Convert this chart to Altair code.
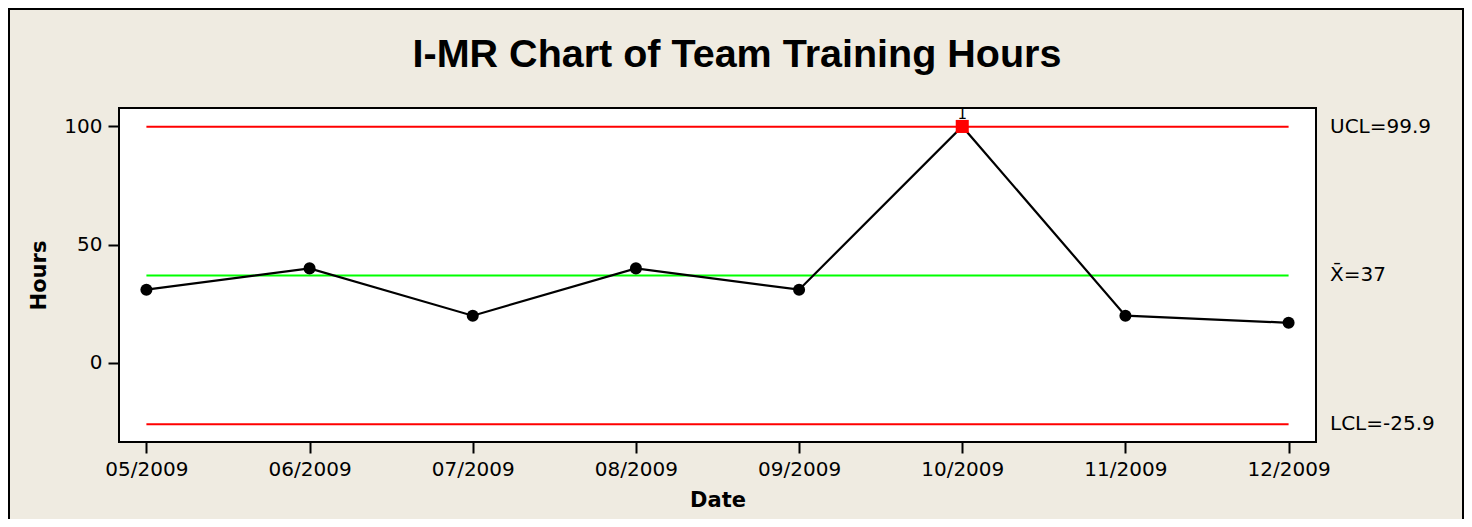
import altair as alt
import pandas as pd

# ---- data ----
dates = ["05/2009", "06/2009", "07/2009", "08/2009",
         "09/2009", "10/2009", "11/2009", "12/2009"]
hours = [31, 40, 20, 40, 31, 100, 20, 17]

limit_names = ["UCL", "CL", "LCL"]
limit_values = [99.9, 37.0, -25.9]
limit_labels = ["UCL=99.9", "X\u0304=37", "LCL=-25.9"]
limit_colors = ["#FF0000", "#00FF00", "#FF0000"]

y_ticks = [0, 50, 100]
title_text = "I-MR Chart of Team Training Hours"
flag_text = "1"

# ---- tables ----
ucl = limit_values[0]
df = pd.DataFrame({"Date": dates, "Hours": hours})
df["status"] = ["out" if h > ucl else "in" for h in hours]
df["flag"] = [flag_text if s == "out" else "" for s in df["status"]]

limits = pd.DataFrame({
    "name": limit_names,
    "Hours": limit_values,
    "label": limit_labels,
    "Date": [dates[0]] * len(limit_names),
    "end": [dates[-1]] * len(limit_names),
})
one = pd.DataFrame({"t": [title_text]})

W, H = 1197, 334
x_scale = alt.Scale(type="point", domain=dates, padding=0.168)
y_scale = alt.Scale(domain=[-33.4, 107.8], nice=False, zero=False)

x_axis = alt.Axis(title="Date", labelAngle=0, labelPadding=6, titlePadding=10)
y_axis = alt.Axis(title="Hours", values=y_ticks, labelPadding=6, titlePadding=14)

x_enc = alt.X("Date:N", scale=x_scale, sort=dates, axis=x_axis)
y_enc = alt.Y("Hours:Q", scale=y_scale, axis=y_axis)

rules = alt.Chart(limits).mark_rule(strokeWidth=2).encode(
    x=x_enc,
    x2="end:N",
    y=y_enc,
    color=alt.Color("name:N", scale=alt.Scale(domain=limit_names, range=limit_colors),
                    legend=None),
)

limit_text = alt.Chart(limits).mark_text(
    align="left", baseline="middle", font="DejaVu Sans", fontSize=20, color="black"
).encode(
    x=alt.value(1211),
    y=y_enc,
    text="label:N",
)

line = alt.Chart(df).mark_line(color="black", strokeWidth=2.2).encode(x=x_enc, y=y_enc)

circles = alt.Chart(df).transform_filter("datum.status == 'in'").mark_circle(
    color="black", size=145, opacity=1
).encode(x=x_enc, y=y_enc)

squares = alt.Chart(df).transform_filter("datum.status == 'out'").mark_square(
    color="#FF0000", size=170, opacity=1
).encode(x=x_enc, y=y_enc)

flags = alt.Chart(df).transform_filter("datum.status == 'out'").mark_text(
    baseline="alphabetic", dy=-7, fontSize=15, font="DejaVu Sans", color="black", clip=True
).encode(x=x_enc, y=y_enc, text="flag:N")

title = alt.Chart(one).mark_text(
    font="Liberation Sans", fontWeight="bold", fontSize=39.5, align="center",
    baseline="alphabetic", color="black"
).encode(x=alt.value(618), y=alt.value(-41.3), text="t:N")

border = alt.Chart(one).mark_rect(
    fillOpacity=0, stroke="black", strokeWidth=2
).encode(x=alt.value(-110), x2=alt.value(1344), y=alt.value(-99), y2=alt.value(440))

chart = alt.layer(
    rules, line, circles, squares, flags, limit_text, title, border
).resolve_scale(color="independent").properties(
    width=W, height=H,
    padding={"left": 111, "top": 100, "right": 148, "bottom": 77},
    autosize=alt.AutoSizeParams(type="none"),
).configure(
    background="#EFEBE1",
).configure_view(
    fill="white", stroke="black", strokeWidth=2,
).configure_axis(
    domain=False, grid=False,
    labelFont="DejaVu Sans", labelFontSize=20, labelColor="black",
    tickColor="black", tickWidth=2, tickSize=11,
    titleFont="DejaVu Sans", titleFontSize=21, titleFontWeight="bold",
    titleColor="black",
)

chart.save("out.html", embed_options={"renderer": "svg", "actions": False})
